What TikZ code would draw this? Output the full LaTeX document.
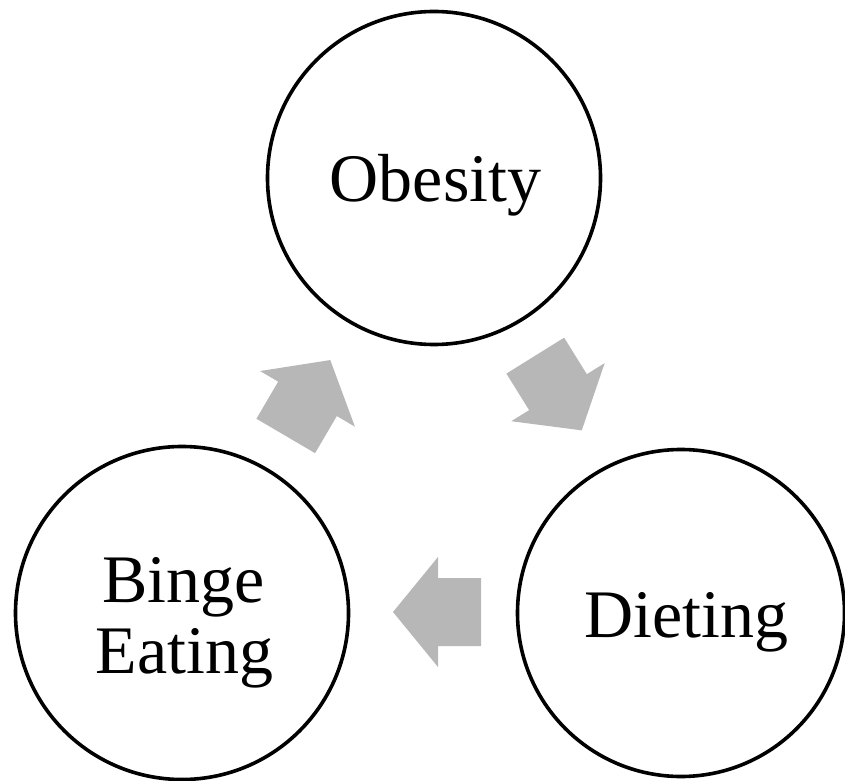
\documentclass[tikz,border=0pt]{standalone}
\usepackage{fontspec}
\setmainfont{Liberation Serif}
\begin{document}
\begin{tikzpicture}[x=1pt,y=1pt,
  cyc/.style={circle, draw=black, line width=3.6pt, fill=white, inner sep=0pt, minimum size=333pt},
  lbl/.style={inner sep=0pt, anchor=base, font=\fontsize{68}{80}\selectfont},
  arrowfill/.style={fill=arrowgray, draw=none}]
\definecolor{arrowgray}{HTML}{B7B7B7}
\useasboundingbox (0,0) rectangle (845,780);
% circles
\node[cyc] (obesity) at (434,602) {};
\node[cyc] (binge) at (182,167) {};
\node[cyc, minimum size=327pt] (dieting) at (681,167) {};
% labels
\node[lbl] (obesityT) at (435.5,578) {Obesity};
\node[lbl] (bingeT) at (183.5,178) {Binge};
\node[lbl] (eatingT) at (184.5,107) {Eating};
\node[lbl] (dietingT) at (686.5,143) {Dieting};
% cycle arrows
\newcommand\cyclearrow[3]{%
  \fill[arrowfill, shift={(#1,#2)}, rotate=#3]
    (-44,-34) -- (-1,-34) -- (-1,-55) -- (44,0) -- (-1,55) -- (-1,34) -- (-44,34) -- cycle;}
\cyclearrow{308}{382}{59.6}
\cyclearrow{558.5}{387}{-58.1}
\cyclearrow{437}{168}{180}
\end{tikzpicture}
\end{document}
